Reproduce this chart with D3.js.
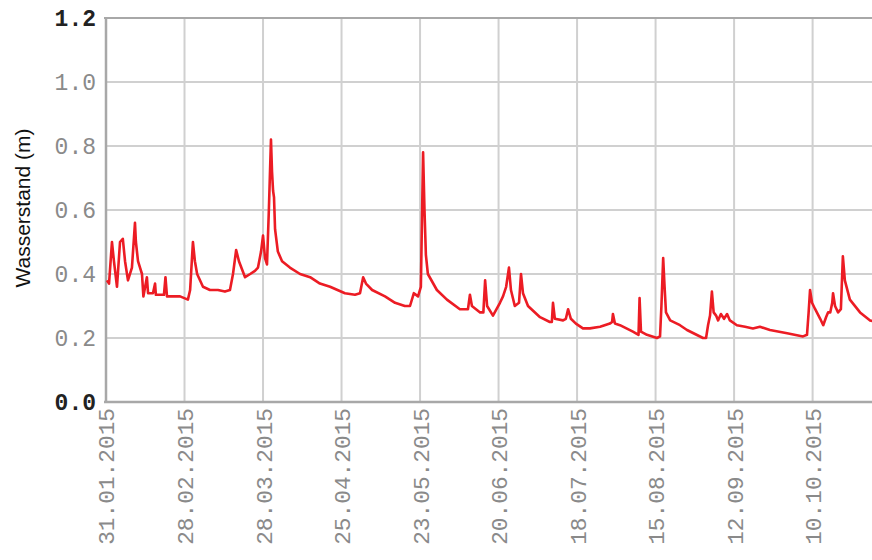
<!DOCTYPE html>
<html>
<head>
<meta charset="utf-8">
<script src="https://cdn.jsdelivr.net/npm/d3@7/dist/d3.min.js"></script>
<style>
  html, body { margin: 0; padding: 0; background: #fff; }
  svg { display: block; }
</style>
</head>
<body>
<svg id="chart" width="872" height="560"></svg>
<script>
// Water level readings (timestamp, metres)
const times = [
  "2015-01-31 08:00","2015-02-01 02:00","2015-02-02 03:00","2015-02-02 20:00","2015-02-03 22:00",
  "2015-02-05 00:00","2015-02-06 00:00","2015-02-06 19:00","2015-02-07 20:00","2015-02-09 06:00",
  "2015-02-10 08:00","2015-02-10 16:00","2015-02-11 10:00","2015-02-12 20:00","2015-02-13 08:00",
  "2015-02-14 14:00","2015-02-15 00:00","2015-02-16 18:00","2015-02-17 12:00","2015-02-17 19:00",
  "2015-02-20 16:00","2015-02-21 05:00","2015-02-21 18:00","2015-02-26 10:00","2015-03-01 05:00",
  "2015-03-02 00:00","2015-03-03 00:00","2015-03-03 17:00","2015-03-04 12:00","2015-03-06 14:00",
  "2015-03-09 02:00","2015-03-11 22:00","2015-03-14 10:00","2015-03-16 05:00","2015-03-17 07:00",
  "2015-03-18 10:00","2015-03-19 10:00","2015-03-21 14:00","2015-03-23 10:00","2015-03-25 03:00",
  "2015-03-26 05:00","2015-03-27 07:00","2015-03-28 00:00","2015-03-28 17:00","2015-03-29 10:00",
  "2015-03-30 02:00","2015-03-30 20:00","2015-03-31 05:00","2015-03-31 14:00","2015-03-31 22:00",
  "2015-04-01 07:00","2015-04-02 07:00","2015-04-03 19:00","2015-04-06 14:00","2015-04-10 05:00",
  "2015-04-13 19:00","2015-04-17 07:00","2015-04-20 22:00","2015-04-26 05:00","2015-04-29 19:00",
  "2015-05-01 14:00","2015-05-02 17:00","2015-05-03 17:00","2015-05-05 22:00","2015-05-10 12:00",
  "2015-05-14 02:00","2015-05-17 14:00","2015-05-19 10:00","2015-05-20 19:00","2015-05-22 07:00",
  "2015-05-23 07:00","2015-05-24 02:00","2015-05-24 14:00","2015-05-25 02:00","2015-05-25 19:00",
  "2015-05-29 00:00","2015-06-01 14:00","2015-06-06 05:00","2015-06-09 02:00","2015-06-09 19:00",
  "2015-06-10 12:00","2015-06-13 10:00","2015-06-14 14:00","2015-06-15 05:00","2015-06-15 22:00",
  "2015-06-18 00:00","2015-06-20 12:00","2015-06-21 14:00","2015-06-22 17:00","2015-06-23 17:00",
  "2015-06-24 10:00","2015-06-25 19:00","2015-06-27 07:00","2015-06-28 00:00","2015-06-28 17:00",
  "2015-06-30 12:00","2015-07-04 19:00","2015-07-08 07:00","2015-07-09 00:00","2015-07-09 10:00",
  "2015-07-10 02:00","2015-07-13 00:00","2015-07-14 00:00","2015-07-14 19:00","2015-07-15 19:00",
  "2015-07-17 14:00","2015-07-20 02:00","2015-07-22 14:00","2015-07-26 05:00","2015-07-29 17:00",
  "2015-07-30 12:00","2015-07-30 19:00","2015-07-31 12:00","2015-08-02 07:00","2015-08-06 22:00",
  "2015-08-08 22:00","2015-08-09 07:00","2015-08-09 19:00","2015-08-11 22:00","2015-08-15 12:00",
  "2015-08-16 14:00","2015-08-17 02:00","2015-08-17 17:00","2015-08-18 05:00","2015-08-18 17:00",
  "2015-08-20 05:00","2015-08-23 17:00","2015-08-26 05:00","2015-08-31 22:00","2015-09-02 00:00",
  "2015-09-02 17:00","2015-09-03 10:00","2015-09-04 02:00","2015-09-04 17:00","2015-09-05 14:00",
  "2015-09-06 07:00","2015-09-07 07:00","2015-09-08 10:00","2015-09-09 12:00","2015-09-10 12:00",
  "2015-09-13 00:00","2015-09-15 22:00","2015-09-18 17:00","2015-09-21 05:00","2015-09-24 19:00",
  "2015-09-30 22:00","2015-10-06 14:00","2015-10-08 00:00","2015-10-08 14:00","2015-10-09 02:00",
  "2015-10-09 19:00","2015-10-10 22:00","2015-10-12 17:00","2015-10-13 19:00","2015-10-14 19:00",
  "2015-10-15 12:00","2015-10-16 07:00","2015-10-17 00:00","2015-10-17 07:00","2015-10-18 00:00",
  "2015-10-19 02:00","2015-10-20 02:00","2015-10-20 19:00","2015-10-21 12:00","2015-10-23 07:00",
  "2015-10-26 22:00","2015-10-30 12:00","2015-11-01 14:00"
];
const levels = [
  0.38,0.37,0.50,0.44,0.36,
  0.50,0.51,0.44,0.38,0.42,
  0.56,0.50,0.44,0.40,0.33,
  0.39,0.34,0.34,0.37,0.335,
  0.335,0.39,0.33,0.33,0.32,
  0.35,0.50,0.44,0.40,0.36,
  0.35,0.35,0.345,0.35,0.40,
  0.475,0.44,0.39,0.40,0.41,
  0.42,0.47,0.52,0.45,0.43,
  0.60,0.82,0.72,0.66,0.64,
  0.54,0.47,0.44,0.42,0.40,
  0.39,0.37,0.36,0.34,0.335,
  0.34,0.39,0.37,0.35,0.33,
  0.31,0.30,0.30,0.34,0.33,
  0.36,0.78,0.60,0.46,0.40,
  0.35,0.32,0.29,0.29,0.335,
  0.30,0.28,0.28,0.38,0.30,
  0.27,0.31,0.33,0.36,0.42,
  0.35,0.30,0.31,0.40,0.34,
  0.30,0.265,0.25,0.25,0.31,
  0.26,0.255,0.26,0.29,0.26,
  0.245,0.23,0.23,0.235,0.245,
  0.25,0.275,0.245,0.24,0.22,
  0.21,0.325,0.22,0.21,0.20,
  0.205,0.30,0.45,0.36,0.28,
  0.255,0.24,0.225,0.20,0.20,
  0.24,0.27,0.345,0.28,0.27,
  0.255,0.275,0.26,0.275,0.255,
  0.24,0.235,0.23,0.235,0.225,
  0.215,0.205,0.21,0.28,0.35,
  0.31,0.29,0.26,0.24,0.265,
  0.28,0.28,0.31,0.34,0.30,
  0.28,0.29,0.455,0.38,0.32,
  0.28,0.255,0.25
];

// Axis ticks
const xTickLabels = ["31.01.2015","28.02.2015","28.03.2015","25.04.2015","23.05.2015",
                     "20.06.2015","18.07.2015","15.08.2015","12.09.2015","10.10.2015"];
const yTickValues = [0.0, 0.2, 0.4, 0.6, 0.8, 1.0, 1.2];
const yTitle = "Wasserstand (m)";

const svg = d3.select("#chart");
const W = 872;
const plotLeft = 106, plotTop = 18, plotBottom = 402;

const parseTime = d3.timeParse("%Y-%m-%d %H:%M");
const parseTick = d3.timeParse("%d.%m.%Y");
const series = times.map((t, i) => ({ t: parseTime(t), v: levels[i] }));
const tickDates = xTickLabels.map(parseTick);

const x = d3.scaleTime()
  .domain([parseTick("31.01.2015"), parseTick("01.11.2015")])
  .range([plotLeft, plotLeft + 274 * 2.804]);
const y = d3.scaleLinear().domain([0, 1.2]).range([plotBottom, plotTop]);

const monoFont = "'Courier New', 'Liberation Mono', monospace";

// Grid
const grid = svg.append("g");
grid.selectAll("line.v").data(tickDates.slice(1)).enter().append("line")
  .attr("x1", d => x(d)).attr("x2", d => x(d))
  .attr("y1", plotTop).attr("y2", plotBottom)
  .attr("stroke", "#d0d0d0").attr("stroke-width", 2);
grid.selectAll("line.h").data(yTickValues.slice(1, -1)).enter().append("line")
  .attr("x1", plotLeft).attr("x2", W)
  .attr("y1", d => y(d)).attr("y2", d => y(d))
  .attr("stroke", "#d0d0d0").attr("stroke-width", 2);

// Frame
svg.append("line").attr("x1", plotLeft - 2).attr("x2", W).attr("y1", plotTop).attr("y2", plotTop)
  .attr("stroke", "#a8a8a8").attr("stroke-width", 2);
svg.append("line").attr("x1", plotLeft).attr("x2", plotLeft).attr("y1", plotTop).attr("y2", plotBottom)
  .attr("stroke", "#a8a8a8").attr("stroke-width", 2.5);

// Series
const line = d3.line().x(d => x(d.t)).y(d => y(d.v));
svg.append("path").datum(series)
  .attr("d", line)
  .attr("fill", "none")
  .attr("stroke", "#ec1c24")
  .attr("stroke-width", 2.6)
  .attr("stroke-linejoin", "round");

// Bottom axis line
svg.append("line").attr("x1", plotLeft - 2).attr("x2", W).attr("y1", plotBottom).attr("y2", plotBottom)
  .attr("stroke", "#a8a8a8").attr("stroke-width", 2.5);

// Y axis labels
const yAxis = d3.axisLeft(y).tickValues(yTickValues).tickFormat(d3.format(".1f")).tickSize(0).tickPadding(10);
const gy = svg.append("g").attr("transform", `translate(${plotLeft},0)`).call(yAxis);
gy.select(".domain").remove();
gy.selectAll("text")
  .attr("font-family", monoFont)
  .attr("font-size", 23)
  .attr("fill", d => (d === 0 || d === 1.2) ? "#222" : "#8a8a8a")
  .attr("font-weight", d => (d === 0 || d === 1.2) ? "bold" : "normal");

// X axis labels
const xAxis = d3.axisBottom(x).tickValues(tickDates).tickFormat((d, i) => xTickLabels[i]).tickSize(0);
const gx = svg.append("g").attr("transform", `translate(0,${plotBottom})`).call(xAxis);
gx.select(".domain").remove();
gx.selectAll("text")
  .attr("font-family", monoFont)
  .attr("font-size", 22.8)
  .attr("fill", "#8a8a8a")
  .attr("text-anchor", "end")
  .attr("transform", "rotate(-90)")
  .attr("x", -6).attr("y", 0).attr("dy", "0.35em");

// Y title
svg.append("text")
  .attr("transform", `translate(30,208) rotate(-90)`)
  .attr("text-anchor", "middle")
  .attr("font-family", "Arial, 'Liberation Sans', sans-serif")
  .attr("font-size", 21)
  .attr("fill", "#111")
  .text(yTitle);
</script>
</body>
</html>
